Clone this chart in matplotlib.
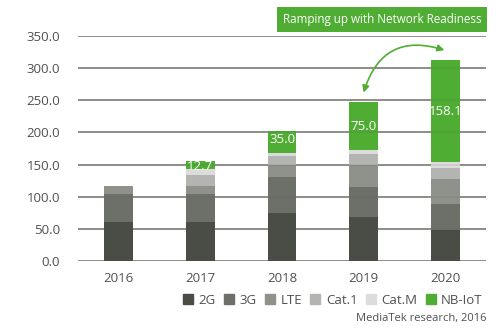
import matplotlib
matplotlib.use("Agg")
import matplotlib.pyplot as plt
from matplotlib.lines import Line2D
import numpy as np

plt.rcParams['font.family'] = ['Open Sans', 'DejaVu Sans']

years = ["2016", "2017", "2018", "2019", "2020"]
series_names = ["2G", "3G", "LTE", "Cat.1", "Cat.M", "NB-IoT"]
v_2g = [61, 61, 75, 68, 49]
v_3g = [44, 44, 55, 47, 40]
v_lte = [12, 12, 20, 35, 38]
v_cat1 = [0, 17, 14, 16, 18]
v_catm = [0, 9, 4, 6, 9]
v_nbiot = [0, 12.7, 35.0, 75.0, 158.1]
nb_labels = ["", "12.7", "35.0", "75.0", "158.1"]
yticks = [0, 50, 100, 150, 200, 250, 300, 350]
title_text = "Ramping up with Network Readiness"
source_text = "MediaTek research, 2016"

colors = ["#4a4d45", "#6d7069", "#8f918b", "#b4b4b2", "#dcdcdb", "#4fad34"]
series = [v_2g, v_3g, v_lte, v_cat1, v_catm, v_nbiot]

fig = plt.figure(figsize=(5, 3.32), dpi=100)
ax = fig.add_axes([78/500, 1-261/332, 408/500, 225/332])

x = np.arange(len(years))
bottom = np.zeros(len(years))
for vals, c in zip(series, colors):
    vals = np.array(vals, dtype=float)
    ax.bar(x, vals, bottom=bottom, width=0.355, color=c, edgecolor='none', zorder=2)
    bottom += vals

# NB-IoT labels
nb_bottom = bottom - np.array(v_nbiot)
for i, lab in enumerate(nb_labels):
    if not lab:
        continue
    v = v_nbiot[i]
    if v < 20:
        frac = 0.35
    elif v < 50:
        frac = 0.62
    else:
        frac = 0.5
    ax.text(x[i], nb_bottom[i] + v * frac, lab, ha='center', va='center',
            color='white', fontsize=9.5, zorder=5)

ax.set_xlim(-0.5, 4.5)
ax.set_ylim(0, 350)
for t in yticks:
    ax.axhline(t, color='#505048', alpha=0.7, lw=1.2, zorder=1)
    ax.axhline(t, color='#505048', alpha=0.12, lw=1.2, zorder=3)
ax.set_yticks(yticks)
ax.set_yticklabels([f"{t:.1f}" for t in yticks])
ax.set_xticks(x)
ax.set_xticklabels(years)
ax.tick_params(length=0, labelsize=9.5, labelcolor='#505050')
ax.tick_params(axis='y', pad=13)
ax.tick_params(axis='x', pad=8)
for s in ax.spines.values():
    s.set_visible(False)

# curved arrow
ax.annotate("", xy=(3.0, 262), xytext=(3.99, 328),
            arrowprops=dict(arrowstyle='<|-|>', color='#4fad34', lw=1.2,
                            connectionstyle='arc3,rad=0.5', mutation_scale=10,
                            shrinkA=0, shrinkB=0), zorder=6)

# title box
fig.text(382/500, 1-19.5/332, title_text, ha='center', va='center', color='white', fontsize=8.4,
         bbox=dict(boxstyle='square,pad=0.5', fc='#4fad34', ec='none'))

handles = [Line2D([0], [0], marker='s', ls='none', color=c, markersize=6.5) for c in colors]
leg = fig.legend(handles, series_names, loc='center right', bbox_to_anchor=(488/500, 1-300/332),
                 ncol=6, frameon=False, fontsize=9.5, handletextpad=0.3, columnspacing=0.5,
                 handlelength=1.0, borderaxespad=0)
for t in leg.get_texts():
    t.set_color('#505050')

fig.text(486/500, 1-319/332, source_text, ha='right', va='center', color='#505050', fontsize=8)

fig.savefig("out.png", dpi=100)
